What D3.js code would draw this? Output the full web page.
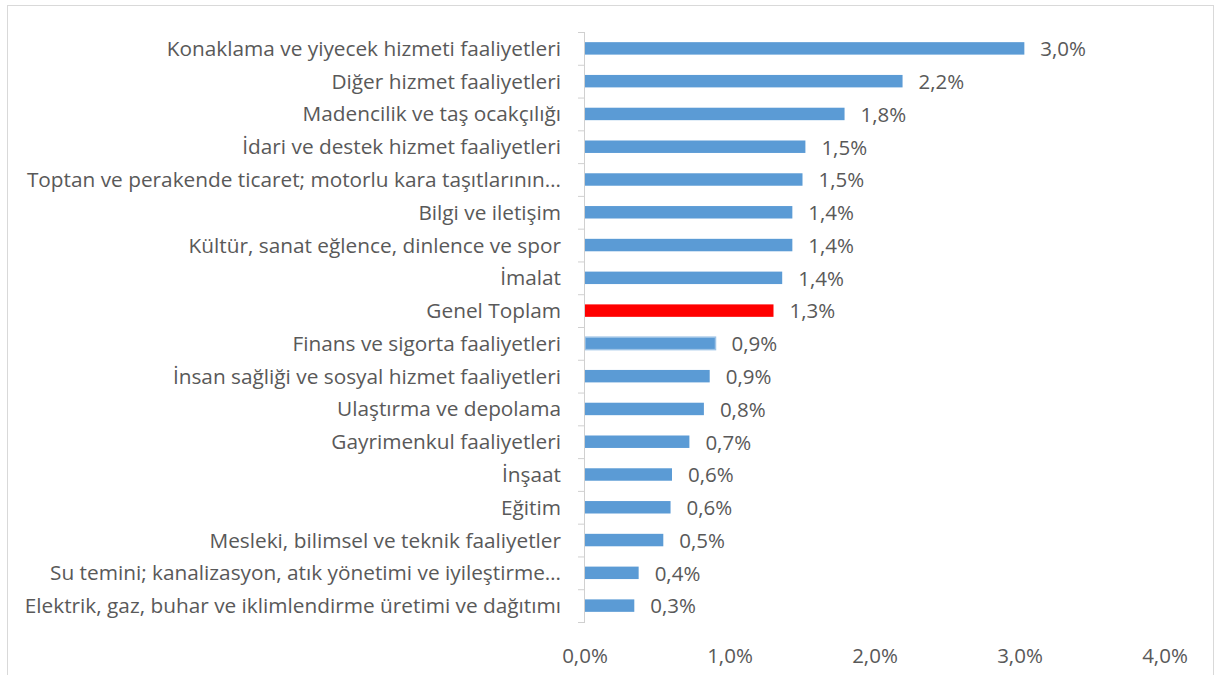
<!DOCTYPE html>
<html>
<head>
<meta charset="utf-8">
<script src="https://cdn.jsdelivr.net/npm/d3@7"></script>
<style>
  body { margin: 0; background: #fff; }
  text { font-family: "Open Sans", sans-serif; fill: #595959; }
</style>
</head>
<body>
<svg></svg>
<script>
const categories = [
  "Konaklama ve yiyecek hizmeti faaliyetleri",
  "Diğer hizmet faaliyetleri",
  "Madencilik ve taş ocakçılığı",
  "İdari ve destek hizmet faaliyetleri",
  "Toptan ve perakende ticaret; motorlu kara taşıtlarının…",
  "Bilgi ve iletişim",
  "Kültür, sanat eğlence, dinlence ve spor",
  "İmalat",
  "Genel Toplam",
  "Finans ve sigorta faaliyetleri",
  "İnsan sağliği ve sosyal hizmet faaliyetleri",
  "Ulaştırma ve depolama",
  "Gayrimenkul faaliyetleri",
  "İnşaat",
  "Eğitim",
  "Mesleki, bilimsel ve teknik faaliyetler",
  "Su temini; kanalizasyon, atık yönetimi ve iyileştirme…",
  "Elektrik, gaz, buhar ve iklimlendirme üretimi ve dağıtımı"
];
const values = [3.03, 2.19, 1.79, 1.52, 1.50, 1.43, 1.43, 1.36, 1.30, 0.90, 0.86, 0.82, 0.72, 0.60, 0.59, 0.54, 0.37, 0.34];
const xTicks = [0, 1, 2, 3, 4];

const width = 1217, height = 675;
const svg = d3.select("svg")
    .attr("width", width)
    .attr("height", height);

// outer frame
svg.append("rect")
    .attr("x", 7.5)
    .attr("y", 5.5)
    .attr("width", 1206)
    .attr("height", 700)
    .attr("fill", "none")
    .attr("stroke", "#d9d9d9");

const x = d3.scaleLinear().domain([0, 4]).range([585, 1165]);
const y = d3.scaleBand().domain(categories).range([32, 622]).paddingInner(0.62).paddingOuter(0.31);

const fmt = v => d3.format(".1f")(v).replace(".", ",") + "%";

// bars
svg.append("g")
  .selectAll("rect")
  .data(categories)
  .join("rect")
    .attr("x", x(0))
    .attr("y", d => y(d))
    .attr("width", (d, i) => x(values[i]) - x(0))
    .attr("height", y.bandwidth())
    .attr("fill", d => d === "Genel Toplam" ? "#ff0000" : "#5b9bd5")
    .attr("stroke", d => d === "Finans ve sigorta faaliyetleri" ? "#9dc3e6" : "none")
    .attr("stroke-width", 1.5);

// value labels
svg.append("g")
  .selectAll("text")
  .data(categories)
  .join("text")
    .attr("x", (d, i) => x(values[i]) + 16)
    .attr("y", d => y(d) + y.bandwidth() / 2)
    .attr("dy", "0.38em")
    .attr("font-size", 20.5)
    .text((d, i) => fmt(values[i]));

// vertical category axis
const yAxis = svg.append("g");
yAxis.append("line")
    .attr("x1", x(0) - 0.5).attr("x2", x(0) - 0.5)
    .attr("y1", 32).attr("y2", 622)
    .attr("stroke", "#d0d0d0");
yAxis.selectAll("line.tick")
  .data(d3.range(categories.length + 1))
  .join("line")
    .attr("class", "tick")
    .attr("x1", x(0) - 7).attr("x2", x(0))
    .attr("y1", i => 32 + i * (590 / categories.length) + 0.5)
    .attr("y2", i => 32 + i * (590 / categories.length) + 0.5)
    .attr("stroke", "#d0d0d0");
yAxis.selectAll("text")
  .data(categories)
  .join("text")
    .attr("x", 561)
    .attr("y", d => y(d) + y.bandwidth() / 2)
    .attr("dy", "0.36em")
    .attr("text-anchor", "end")
    .attr("font-size", 20.8)
    .text(d => d);

// x tick labels
svg.append("g")
  .selectAll("text")
  .data(xTicks)
  .join("text")
    .attr("x", d => x(d))
    .attr("y", 663)
    .attr("text-anchor", "middle")
    .attr("font-size", 20.5)
    .text(d => fmt(d));
</script>
</body>
</html>
